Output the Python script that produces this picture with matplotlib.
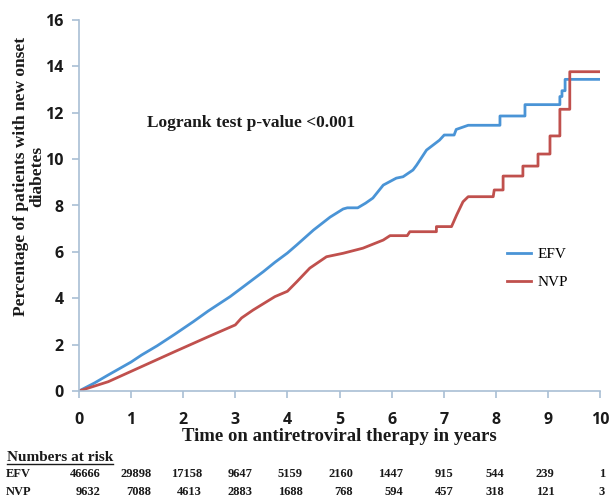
import matplotlib
matplotlib.use('Agg')
import matplotlib.pyplot as plt
from matplotlib.lines import Line2D

# cumulative incidence (years, %)
efv_t = [0, 0.3, 0.56, 1.0, 1.2, 1.5, 1.84, 2.2, 2.48, 2.9, 3.12, 3.54, 3.76,
         4.0, 4.18, 4.5, 4.82, 5.07, 5.15, 5.35, 5.5, 5.64, 5.84, 6.09, 6.22,
         6.41, 6.48, 6.67, 6.92, 7.01, 7.2, 7.24, 7.47, 8.08, 8.08, 8.56, 8.56,
         9.23, 9.23, 9.27, 9.27, 9.33, 9.33, 10.0]
efv_y = [0, 0.35, 0.69, 1.25, 1.55, 1.95, 2.45, 3.0, 3.45, 4.07, 4.44, 5.15, 5.55,
         5.95, 6.30, 6.94, 7.5, 7.85, 7.9, 7.9, 8.1, 8.32, 8.88, 9.18, 9.24,
         9.53, 9.74, 10.39, 10.82, 11.04, 11.04, 11.28, 11.46, 11.46, 11.86, 11.86, 12.35,
         12.35, 12.7, 12.7, 12.95, 12.95, 13.44, 13.44]

nvp_t = [0, 0.56, 1.2, 1.84, 2.48, 3.0, 3.12, 3.34, 3.76, 4.0, 4.18, 4.43, 4.75,
         5.07, 5.45, 5.84, 5.97, 6.3, 6.35, 6.86, 6.86, 7.15, 7.25, 7.37, 7.47,
         7.95, 7.97, 8.14, 8.14, 8.52, 8.52, 8.81, 8.81, 9.04, 9.04, 9.23, 9.23,
         9.42, 9.42, 10.0]
nvp_y = [0, 0.40, 1.05, 1.70, 2.34, 2.85, 3.15, 3.49, 4.07, 4.3, 4.71, 5.30, 5.79,
         5.94, 6.16, 6.51, 6.70, 6.70, 6.87, 6.87, 7.09, 7.09, 7.6, 8.16, 8.38,
         8.38, 8.67, 8.67, 9.27, 9.27, 9.70, 9.70, 10.22, 10.22, 11.0, 11.0, 12.15,
         12.15, 13.77, 13.77]

xticks = list(range(0, 11))
yticks = list(range(0, 17, 2))

risk_groups = ['EFV', 'NVP']
risk_efv = [46666, 29898, 17158, 9647, 5159, 2160, 1447, 915, 544, 239, 1]
risk_nvp = [9632, 7088, 4613, 2883, 1688, 768, 594, 457, 318, 121, 3]

efv_color = '#4a94d6'
nvp_color = '#c0504d'
axis_color = '#a9bfd4'
text_color = '#1a1a1a'
serif = 'Liberation Serif'
sans = 'Open Sans'

fig = plt.figure(figsize=(6.1, 4.98), dpi=100)
ax = fig.add_axes([79 / 610, 1 - 391 / 498, 521 / 610, 371 / 498])

ax.plot(efv_t, efv_y, color=efv_color, lw=2, label='EFV')
ax.plot(nvp_t, nvp_y, color=nvp_color, lw=2, label='NVP')

ax.set_xlim(0, 10)
ax.set_ylim(0, 16)
ax.set_xticks(xticks)
ax.set_yticks(yticks)
for side in ['top', 'right']:
    ax.spines[side].set_visible(False)
for side in ['left', 'bottom']:
    ax.spines[side].set_color(axis_color)
    ax.spines[side].set_linewidth(1.2)
ax.tick_params(colors=axis_color, length=5, width=1.2, labelcolor=text_color)
ax.tick_params(axis='x', pad=10)
ax.tick_params(axis='y', pad=6)
for lab in ax.get_xticklabels() + ax.get_yticklabels():
    lab.set_fontfamily(sans)
    lab.set_fontweight('bold')
    lab.set_fontsize(11.5)

ax.set_xlabel('Time on antiretroviral therapy in years', fontfamily=serif,
              fontweight='bold', fontsize=13.5, color=text_color, labelpad=0)
fig.text(29 / 610, 1 - 176 / 498, 'Percentage of patients with new onset\ndiabetes',
         rotation=90, ha='center', va='center', multialignment='center',
         fontfamily=serif, fontweight='bold', fontsize=12.5, color=text_color,
         linespacing=1.0)

fig.text(251 / 610, 1 - 123 / 498, 'Logrank test p-value <0.001',
         ha='center', va='center', fontfamily=serif, fontweight='bold',
         fontsize=12.5, color=text_color)

ax.legend(loc='upper left', bbox_to_anchor=(0.795, 0.424), frameon=False,
          prop={'family': serif, 'size': 11}, handlelength=1.6,
          handletextpad=0.4, labelspacing=0.95)

# numbers at risk table
fig.text(7 / 610, 1 - 457 / 498, 'Numbers at risk', ha='left', va='center',
         fontfamily=serif, fontweight='bold', fontsize=11, color=text_color)
fig.add_artist(Line2D([7 / 610, 113 / 610], [1 - 464 / 498, 1 - 464 / 498],
                      color=text_color, lw=1))
row_y = [474, 492]
for g, vals, yy in zip(risk_groups, [risk_efv, risk_nvp], row_y):
    fig.text(6 / 610, 1 - yy / 498, g, ha='left', va='center', fontfamily=serif,
             fontweight='bold', fontsize=9, color=text_color)
    for i, v in enumerate(vals):
        fig.text((101 + 50.4 * i) / 610, 1 - yy / 498, str(v), ha='right',
                 va='center', fontfamily=serif, fontweight='bold', fontsize=9,
                 color=text_color)

fig.savefig('out.png', dpi=100, facecolor='white')
